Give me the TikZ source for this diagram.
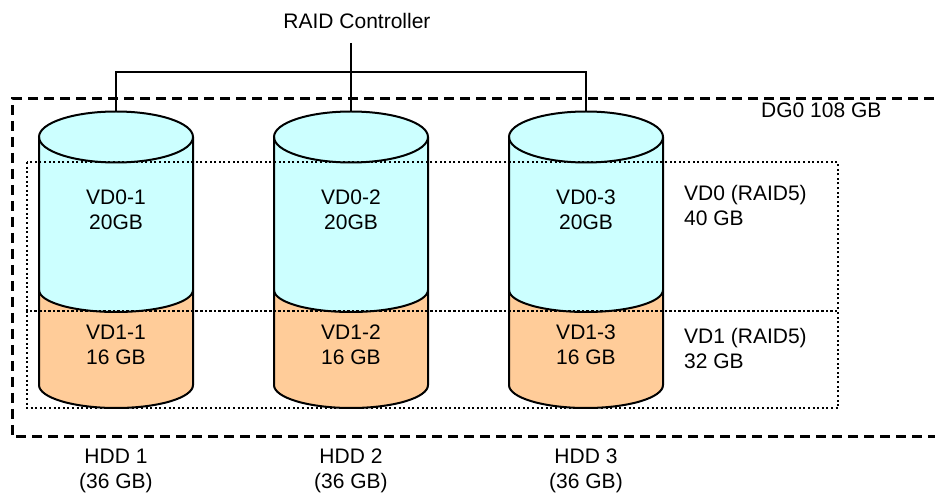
\documentclass[tikz,border=0pt]{standalone}
\usepackage{fontspec}
\setmainfont{Liberation Sans}
\definecolor{vdcyan}{HTML}{CCFFFF}
\definecolor{vdorange}{HTML}{FFCC99}
\begin{document}
\begin{tikzpicture}[x=1pt,y=1pt,
  lbl/.style={inner sep=0pt,align=center,font=\fontsize{21}{25}\selectfont},
  lbll/.style={inner sep=0pt,align=left,font=\fontsize{21}{25}\selectfont},
  cylline/.style={line width=2pt,black},
  wire/.style={line width=2pt,black},
  dgbox/.style={line width=3pt,dash pattern=on 10pt off 6pt},
  vdbox/.style={line width=2pt,dash pattern=on 2pt off 2.6pt}]
\useasboundingbox (0,0) rectangle (935,493);
\begin{scope}
\clip (0,0) rectangle (935,493);
% cylinders
\foreach \cx/\n in {116/1,351/2,586/3}{
  \fill[vdorange] (\cx-77,203) arc[start angle=180,end angle=360,x radius=77,y radius=22]
     -- (\cx+77,108) arc[start angle=0,end angle=-180,x radius=77,y radius=23] -- cycle;
  \fill[vdcyan] (\cx-77,356) -- (\cx-77,203) arc[start angle=180,end angle=360,x radius=77,y radius=22]
     -- (\cx+77,356) arc[start angle=0,end angle=180,x radius=77,y radius=25.5] -- cycle;
  \draw[cylline] (\cx,356) ellipse[x radius=77,y radius=25.5];
  \draw[cylline] (\cx-77,356) -- (\cx-77,108) arc[start angle=180,end angle=360,x radius=77,y radius=23] -- (\cx+77,356);
  \draw[cylline] (\cx-77,203) arc[start angle=180,end angle=360,x radius=77,y radius=22];
  \coordinate (top\n) at (\cx,381.5);
}
% boxes
\draw[dgbox] (950,394) -- (12,394) -- (12,56) -- (950,56);
\draw[vdbox] (27,330.7) rectangle (838,182.3);
\draw[vdbox] (27,182.3) rectangle (838,84.7);
\end{scope}
% controller
\node[lbl] (ctrl) at (357,472) {RAID Controller};
\coordinate (ctrlport) at (351,450);
\coordinate (bus) at (351,421);
\draw[wire] (ctrlport) -- (top2);
\draw[wire] (top1) |- (bus) -| (top3);
% labels
\node[lbll,anchor=west] (dg) at (761,383) {DG0 108 GB};
\node[lbll,anchor=west] (vd0) at (684,287.5) {VD0 (RAID5)\\40 GB};
\node[lbll,anchor=west] (vd1) at (684,144.7) {VD1 (RAID5)\\32 GB};
\node[lbl] (a1) at (116,283.5) {VD0-1\\20GB};
\node[lbl] (a2) at (351,283.5) {VD0-2\\20GB};
\node[lbl] (a3) at (586,283.5) {VD0-3\\20GB};
\node[lbl] (b1) at (116,148.3) {VD1-1\\16 GB};
\node[lbl] (b2) at (351,148.3) {VD1-2\\16 GB};
\node[lbl] (b3) at (586,148.3) {VD1-3\\16 GB};
\node[lbl] (h1) at (116,22.5) {HDD 1\\(36 GB)};
\node[lbl] (h2) at (351,22.5) {HDD 2\\(36 GB)};
\node[lbl] (h3) at (586,22.5) {HDD 3\\(36 GB)};
\end{tikzpicture}
\end{document}
